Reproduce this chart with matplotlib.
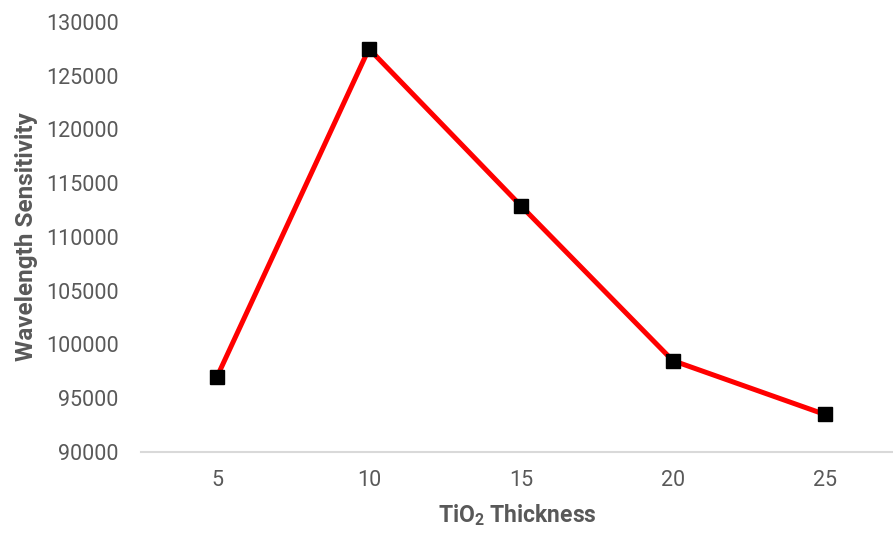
import matplotlib
matplotlib.use("Agg")
import matplotlib.pyplot as plt

# data
thickness = ["5", "10", "15", "20", "25"]
sensitivity = [97000, 127500, 112900, 98500, 93500]
y_ticks = [90000, 95000, 100000, 105000, 110000, 115000, 120000, 125000, 130000]

plt.rcParams['font.family'] = ['Roboto', 'DejaVu Sans']
plt.rcParams['mathtext.fontset'] = 'custom'
plt.rcParams['mathtext.rm'] = 'Roboto'
plt.rcParams['mathtext.bf'] = 'Roboto:bold'
gray = '#595959'

fig = plt.figure(figsize=(8.93, 5.33), dpi=100)
ax = fig.add_axes([0.158, 0.152, 0.842, 0.807])

x = list(range(len(thickness)))
ax.plot(x, sensitivity, color='#ff0000', linewidth=3.6, marker='s',
        markersize=10.5, markerfacecolor='black', markeredgecolor='black',
        solid_joinstyle='miter', zorder=3)

ax.set_xlim(-0.5, 4.45)
ax.set_ylim(90000, 130000)
ax.set_xticks(x)
ax.set_xticklabels(thickness)
ax.set_yticks(y_ticks)
ax.set_yticklabels([str(v) for v in y_ticks])
ax.tick_params(axis='both', length=0, labelsize=15.5, colors=gray)
ax.tick_params(axis='x', pad=13)
ax.tick_params(axis='y', pad=16)

for side in ['top', 'right', 'left']:
    ax.spines[side].set_visible(False)
ax.spines['bottom'].set_color('#d9d9d9')
ax.spines['bottom'].set_linewidth(1.5)

ax.set_xlabel(r'TiO$\mathbf{_2}$ Thickness', fontsize=16.5, fontweight='bold', color=gray, labelpad=8)
ax.set_ylabel('Wavelength Sensitivity', fontsize=17.5, fontweight='bold', color=gray, labelpad=6)

fig.savefig('out.png', dpi=100)
